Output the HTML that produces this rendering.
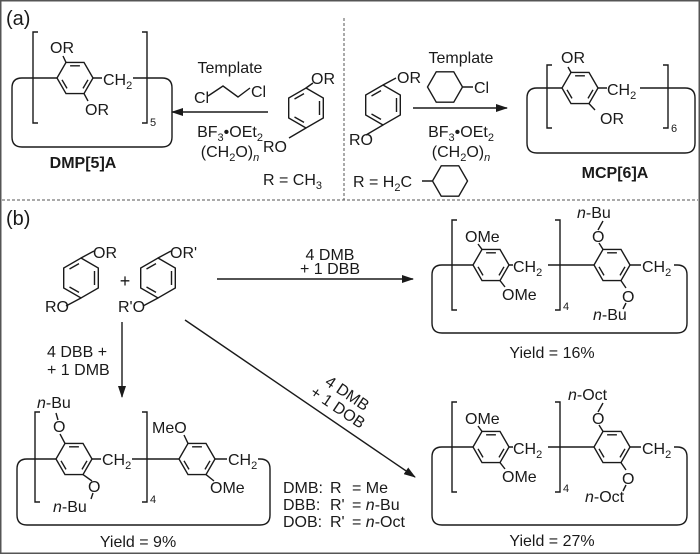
<!DOCTYPE html>
<html><head><meta charset="utf-8"><style>
html,body{margin:0;padding:0;background:#fff}
svg{display:block}
text{font-family:"Liberation Sans",Arial,sans-serif;font-size:16px;fill:#1a1a1a}
</style></head><body>
<svg width="700" height="554" viewBox="0 0 700 554" xmlns="http://www.w3.org/2000/svg">
<defs>
<g id="hx" fill="none" stroke="#1a1a1a" stroke-width="1.4">
<path d="M18,0 L9,-15.6 L-9,-15.6 L-18,0 L-9,15.6 L9,15.6 Z"/>
<path d="M-4.9,-12.2 L4.9,-12.2 M-13,1.8 L-8,10.4 M8,10.4 L13,1.8"/>
</g>
<g id="hv" fill="none" stroke="#1a1a1a" stroke-width="1.4">
<path d="M0,-20 L17.3,-10 L17.3,10 L0,20 L-17.3,10 L-17.3,-10 Z"/>
<path d="M13.5,-7 L13.5,7 M-2,14.4 L-11.5,9 M-11.5,-9 L-2,-14.4"/>
</g>
<path id="cy" fill="none" stroke="#1a1a1a" stroke-width="1.4" d="M17.5,0 L8.75,-15.2 L-8.75,-15.2 L-17.5,0 L-8.75,15.2 L8.75,15.2 Z"/>
<marker id="ah" markerWidth="12" markerHeight="8" refX="11" refY="4" orient="auto" markerUnits="userSpaceOnUse">
<path d="M0,0 L12,4 L0,8 Z" fill="#1a1a1a"/>
</marker>
</defs>

<rect x="0.75" y="0.75" width="698.5" height="552.5" fill="none" stroke="#555" stroke-width="1.5"/>
<line x1="2" y1="200" x2="698" y2="200" stroke="#555" stroke-width="1" stroke-dasharray="3,2"/>
<line x1="344" y1="18" x2="344" y2="200" stroke="#555" stroke-width="1" stroke-dasharray="3,2"/>

<g stroke="#1a1a1a" stroke-width="1.4" fill="none">
<!-- (a) left product -->
<path d="M57,78 H22 Q12,78 12,88 V137 Q12,147 22,147 H162 Q172,147 172,137 V88 Q172,78 162,78 H133"/>
<path d="M38,32 H33 V123 H38 M142,32 H147 V123 H142"/>
<path d="M93,78 H102 M66,62.4 L63,56 M84,93.6 L88,101"/>
<!-- (a) left arrow + chain -->
<line x1="268" y1="112" x2="172" y2="112" marker-end="url(#ah)"/>
<path d="M208,96 L223,86 L238,97 L250,88"/>
<path d="M306,88 L313,83 M306,128 L289,138"/>
<!-- (a) right -->
<path d="M383,85 L396,78 M383,125 L366,135"/>
<line x1="413" y1="108" x2="507" y2="108" marker-end="url(#ah)"/>
<path d="M463,87 H473 M422,181 H432"/>
<path d="M562,88 H537 Q527,88 527,98 V143 Q527,153 537,153 H685 Q695,153 695,143 V98 Q695,88 685,88 H640"/>
<path d="M552,65 H547 V128 H552 M663,65 H668 V128 H663"/>
<path d="M598,88 H607 M571,72.4 L568,67 M589,103.6 L595,110"/>
<!-- (b) monomers -->
<path d="M81,258 L94,251 M81,298 L66,306 M158,258 L171,251 M158,298 L143,306"/>
<line x1="217" y1="279" x2="413" y2="279" marker-end="url(#ah)"/>
<line x1="122" y1="322" x2="122" y2="397" marker-end="url(#ah)"/>
<line x1="185" y1="320" x2="415" y2="477" marker-end="url(#ah)"/>
</g>

<use href="#hx" x="75" y="78"/>
<use href="#hv" x="306" y="108"/>
<use href="#hv" x="383" y="105"/>
<use href="#cy" x="445" y="87"/>
<use href="#cy" x="450" y="181"/>
<use href="#hx" x="580" y="88"/>
<use href="#hv" x="81" y="278"/>
<use href="#hv" x="158" y="278"/>

<!-- (a) text -->
<text x="6" y="25" style="font-size:20px">(a)</text>
<text x="50" y="53">OR</text>
<text x="85" y="115">OR</text>
<text x="103" y="85">CH<tspan font-size="11" dy="4">2</tspan></text>
<text x="150" y="126" style="font-size:11px">5</text>
<text x="83" y="168" text-anchor="middle" style="font-weight:bold">DMP[5]A</text>
<text x="230" y="73" text-anchor="middle">Template</text>
<text x="194" y="103">Cl</text>
<text x="251" y="97">Cl</text>
<text x="230" y="137" text-anchor="middle">BF<tspan font-size="11" dy="4">3</tspan><tspan dy="-4">•OEt</tspan><tspan font-size="11" dy="4">2</tspan></text>
<text x="230" y="157" text-anchor="middle">(CH<tspan font-size="11" dy="4">2</tspan><tspan dy="-4">O)</tspan><tspan font-size="11" dy="4" font-style="italic">n</tspan></text>
<text x="311" y="84">OR</text>
<text x="263" y="152">RO</text>
<text x="263" y="185">R =  CH<tspan font-size="11" dy="4">3</tspan></text>

<text x="461" y="63" text-anchor="middle">Template</text>
<text x="474" y="93">Cl</text>
<text x="461" y="137" text-anchor="middle">BF<tspan font-size="11" dy="4">3</tspan><tspan dy="-4">•OEt</tspan><tspan font-size="11" dy="4">2</tspan></text>
<text x="461" y="157" text-anchor="middle">(CH<tspan font-size="11" dy="4">2</tspan><tspan dy="-4">O)</tspan><tspan font-size="11" dy="4" font-style="italic">n</tspan></text>
<text x="397" y="83">OR</text>
<text x="349" y="145">RO</text>
<text x="353" y="187">R = H<tspan font-size="11" dy="4">2</tspan><tspan dy="-4">C</tspan></text>
<text x="561" y="63">OR</text>
<text x="600" y="124">OR</text>
<text x="607" y="95">CH<tspan font-size="11" dy="4">2</tspan></text>
<text x="671" y="132" style="font-size:11px">6</text>
<text x="615" y="178" text-anchor="middle" style="font-weight:bold">MCP[6]A</text>

<!-- (b) text -->
<text x="6" y="225" style="font-size:20px">(b)</text>
<text x="93" y="258">OR</text>
<text x="45" y="312">RO</text>
<text x="125" y="287" text-anchor="middle" style="font-size:18px">+</text>
<text x="170" y="258">OR'</text>
<text x="118" y="312">R'O</text>
<text x="330" y="260" text-anchor="middle">4 DMB</text>
<text x="330" y="274" text-anchor="middle">+ 1 DBB</text>
<text x="47" y="357">4 DBB +</text>
<text x="47" y="375">+ 1 DMB</text>
<g transform="translate(332,416) rotate(34)">
<text x="0" y="-22" text-anchor="middle">4 DMB</text>
<text x="0" y="-5" text-anchor="middle">+ 1 DOB</text>
</g>
<text x="283" y="493">DMB:</text><text x="330" y="493">R</text><text x="352" y="493">= Me</text>
<text x="283" y="510">DBB:</text><text x="330" y="510">R'</text><text x="352" y="510">= <tspan font-style="italic">n</tspan>-Bu</text>
<text x="283" y="527">DOB:</text><text x="330" y="527">R'</text><text x="352" y="527">= <tspan font-style="italic">n</tspan>-Oct</text>

<!-- (b) top-right product -->
<g transform="translate(491,265)">
<g stroke="#1a1a1a" stroke-width="1.4" fill="none">
<path d="M-18,0 H-49 Q-59,0 -59,10 V58 Q-59,68 -49,68 H186 Q196,68 196,58 V10 Q196,0 186,0 H183"/>
<path d="M-34,-45 H-39 V45 H-34 M64,-45 H69 V45 H64"/>
<path d="M18,0 H22 M57,0 H103 M139,0 H150 M-9,-15.6 L-13,-21 M9,15.6 L14,22 M112,-15.6 L108,-22 M107,-35 L112,-44 M130,15.6 L135,23 M135,38 L132,44"/>
</g>
<use href="#hx" x="0" y="0"/><use href="#hx" x="121" y="0"/>
<text x="-26" y="-23">OMe</text>
<text x="11" y="35">OMe</text>
<text x="22" y="7">CH<tspan font-size="11" dy="4">2</tspan></text>
<text x="72" y="45" style="font-size:11px">4</text>
<text x="101" y="-23">O</text>
<text x="86" y="-47"><tspan font-style="italic">n</tspan>-Bu</text>
<text x="151" y="7">CH<tspan font-size="11" dy="4">2</tspan></text>
<text x="131" y="37">O</text>
<text x="102" y="55"><tspan font-style="italic">n</tspan>-Bu</text>
<text x="61" y="93" text-anchor="middle">Yield = 16%</text>
</g>

<!-- (b) bottom-right product -->
<g transform="translate(491,447)">
<g stroke="#1a1a1a" stroke-width="1.4" fill="none">
<path d="M-18,0 H-49 Q-59,0 -59,10 V68 Q-59,78 -49,78 H186 Q196,78 196,68 V10 Q196,0 186,0 H183"/>
<path d="M-34,-45 H-39 V45 H-34 M64,-45 H69 V45 H64"/>
<path d="M18,0 H22 M57,0 H103 M139,0 H150 M-9,-15.6 L-13,-21 M9,15.6 L14,22 M112,-15.6 L108,-22 M107,-35 L112,-44 M130,15.6 L135,23 M135,38 L132,44"/>
</g>
<use href="#hx" x="0" y="0"/><use href="#hx" x="121" y="0"/>
<text x="-26" y="-23">OMe</text>
<text x="11" y="35">OMe</text>
<text x="22" y="7">CH<tspan font-size="11" dy="4">2</tspan></text>
<text x="72" y="45" style="font-size:11px">4</text>
<text x="101" y="-23">O</text>
<text x="77" y="-47"><tspan font-style="italic">n</tspan>-Oct</text>
<text x="151" y="7">CH<tspan font-size="11" dy="4">2</tspan></text>
<text x="131" y="37">O</text>
<text x="94" y="55"><tspan font-style="italic">n</tspan>-Oct</text>
<text x="61" y="99" text-anchor="middle">Yield = 27%</text>
</g>

<!-- (b) left product -->
<g transform="translate(74,459)">
<g stroke="#1a1a1a" stroke-width="1.4" fill="none">
<path d="M-18,0 H-47 Q-57,0 -57,10 V56 Q-57,66 -47,66 H186 Q196,66 196,56 V10 Q196,0 186,0 H184"/>
<path d="M-34,-47 H-39 V43 H-34 M68,-47 H73 V43 H68"/>
<path d="M18,0 H27 M58,0 H105 M141,0 H153 M-9,-15.6 L-14,-25 M-16,-39 L-18,-46 M9,15.6 L18,22 M19,34 L17,40 M114,-15.6 L110,-24 M132,15.6 L140,22"/>
</g>
<use href="#hx" x="0" y="0"/><use href="#hx" x="123" y="0"/>
<text x="-21" y="-27">O</text>
<text x="-37" y="-51"><tspan font-style="italic">n</tspan>-Bu</text>
<text x="28" y="6">CH<tspan font-size="11" dy="4">2</tspan></text>
<text x="14" y="33">O</text>
<text x="-21" y="53"><tspan font-style="italic">n</tspan>-Bu</text>
<text x="76" y="44" style="font-size:11px">4</text>
<text x="78" y="-26">MeO</text>
<text x="154" y="6">CH<tspan font-size="11" dy="4">2</tspan></text>
<text x="136" y="34">OMe</text>
<text x="64" y="88" text-anchor="middle">Yield = 9%</text>
</g>
</svg>
</body></html>
